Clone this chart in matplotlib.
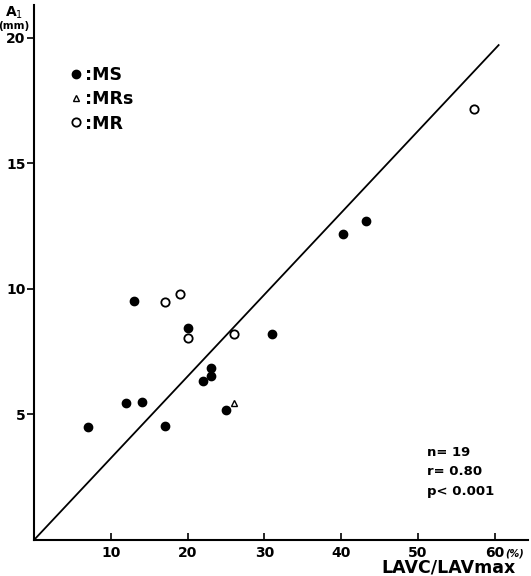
import matplotlib
matplotlib.use("Agg")
import matplotlib.pyplot as plt

plt.rcParams['font.family'] = ['Liberation Sans Narrow', 'DejaVu Sans']

# LAVC/LAVmax (%) vs A1 (mm)
ms_x = [7, 12, 14, 13, 17, 20, 22, 23, 23, 25, 31, 40.3, 43.2]
ms_y = [4.5, 5.45, 5.5, 9.5, 4.55, 8.43, 6.33, 6.85, 6.53, 5.18, 8.18, 12.18, 12.7]
mrs_x = [26]
mrs_y = [5.45]
mr_x = [17, 19, 20, 26, 57.3]
mr_y = [9.48, 9.79, 8.06, 8.18, 17.14]

# regression line end points
fit_x = [0, 60.5]
fit_y = [0, 19.7]

xticks = [10, 20, 30, 40, 50, 60]
yticks = [5, 10, 15, 20]

fig = plt.figure(figsize=(5.31, 5.76), dpi=100)
ax = fig.add_axes([0.064, 0.0625, 0.930, 0.929])

ax.plot(fit_x, fit_y, color='black', lw=1.3)
ax.plot(ms_x, ms_y, 'o', ms=6, mfc='black', mec='black', ls='none', label=':MS')
ax.plot(mrs_x, mrs_y, '^', ms=5, mfc='white', mec='black', mew=1.0, ls='none', label=':MRs')
ax.plot(mr_x, mr_y, 'o', ms=6, mfc='white', mec='black', mew=1.3, ls='none', label=':MR')

ax.set_xlim(0, 64.3)
ax.set_ylim(0, 21.3)
for s in ['top', 'right']:
    ax.spines[s].set_visible(False)
ax.spines['left'].set_linewidth(1.5)
ax.spines['bottom'].set_linewidth(1.5)

ax.set_xticks(xticks)
ax.set_xticklabels([str(t) for t in xticks], fontsize=10, fontweight='bold')
ax.set_yticks(yticks)
ax.set_yticklabels([str(t) for t in yticks], fontsize=10, fontweight='bold')
ax.tick_params(axis='x', direction='in', length=5, width=1.2, pad=4)
ax.tick_params(axis='y', direction='out', length=5, width=1.2, pad=1)

ax.text(61.4, -0.55, '(%)', fontsize=7, fontstyle='italic', fontweight='bold', va='center', ha='left')
ax.text(0.975, -0.035, 'LAVC/LAVmax', transform=ax.transAxes, fontsize=12.5,
        fontweight='bold', ha='right', va='top')

ax.text(-0.04, 1.0, 'A$_1$', transform=ax.transAxes, fontsize=10, fontweight='bold',
        ha='center', va='top')
ax.text(-0.04, 0.97, '(mm)', transform=ax.transAxes, fontsize=7.5, fontweight='bold',
        ha='center', va='top')

ax.text(0.795, 0.176, 'n= 19\nr= 0.80\np< 0.001', transform=ax.transAxes, fontsize=9.5,
        fontweight='bold', ha='left', va='top', linespacing=1.65)

leg = ax.legend(loc='upper left', bbox_to_anchor=(0.043, 0.915), frameon=False,
                handlelength=0.6, handletextpad=0.2, labelspacing=0.36,
                prop={'weight': 'bold', 'size': 12.5})

fig.savefig('out.png', dpi=100)
